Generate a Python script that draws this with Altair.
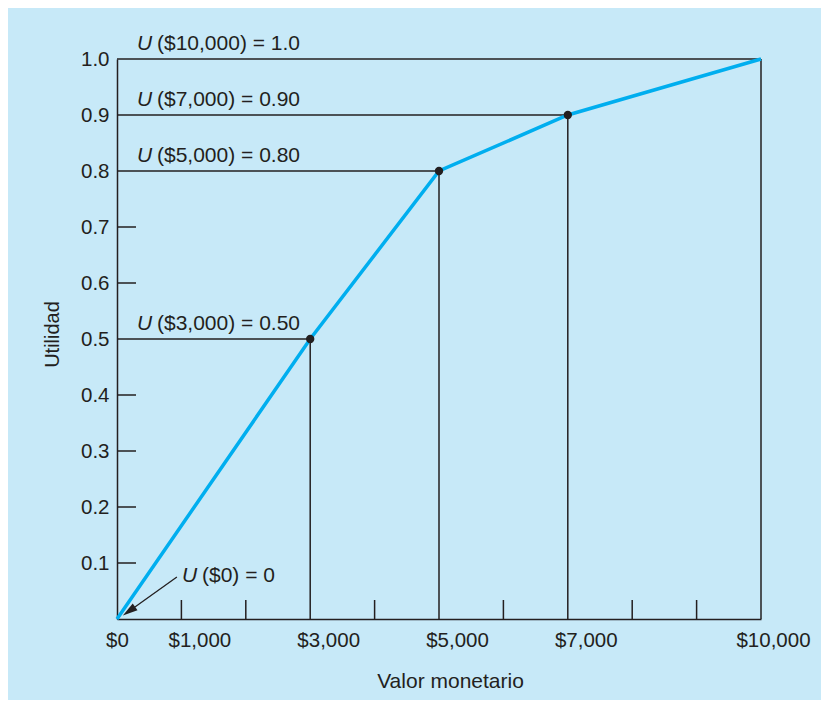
import altair as alt
import pandas as pd

# Data
money = [0, 3000, 5000, 7000, 10000]
utility = [0.0, 0.5, 0.8, 0.9, 1.0]
marked_money = [3000, 5000, 7000]
marked_utility = [0.5, 0.8, 0.9]
drop_money = [3000, 5000, 7000, 10000]
drop_utility = [0.5, 0.8, 0.9, 1.0]
ann_rest = ["($3,000) = 0.50", "($5,000) = 0.80", "($7,000) = 0.90", "($10,000) = 1.0"]
zero_label = "($0) = 0"
x_label_values = [0, 1000, 3000, 5000, 7000, 10000]
x_minor_ticks = [1000, 2000, 4000, 6000, 8000, 9000]
y_tick_values = [0.1, 0.2, 0.3, 0.4, 0.5, 0.6, 0.7, 0.8, 0.9, 1.0]
y_minor_ticks = [0.1, 0.2, 0.3, 0.4, 0.6, 0.7]
arrow_start = (930, 0.075)
arrow_head = (186, 0.014)

W, H = 644, 560
FONT = "Liberation Sans"
INK = "#231f20"
BG = "#c7e9f8"
BLUE = "#00aeef"

xs = alt.Scale(domain=[0, 10000], nice=False)
ys = alt.Scale(domain=[0, 1.0], nice=False)

curve_df = pd.DataFrame({"m": money, "u": utility})
drop_df = pd.DataFrame({"m": drop_money, "u": drop_utility, "zero": 0, "rest": ann_rest, "U": "U"})
pts_df = pd.DataFrame({"m": marked_money, "u": marked_utility})

x_offset = {"condition": [{"test": "datum.value == 0", "value": 0},
                          {"test": "datum.value == 10000", "value": 12}],
            "value": 18}

base_x = alt.X("m:Q", scale=xs, title="Valor monetario",
               axis=alt.Axis(values=x_label_values, format="$,d", tickSize=0,
                             labelPadding=11, labelFontSize=20.5, labelFont=FONT,
                             labelColor=INK, domainColor=INK, domainWidth=1.5,
                             labelFlush=False, labelOverlap=False,
                             grid=False, titleFont=FONT, titleFontSize=21,
                             titleFontWeight="normal", titleColor=INK,
                             titlePadding=20, titleX=333,
                             labelOffset=x_offset))
base_y = alt.Y("u:Q", scale=ys, title="Utilidad",
               axis=alt.Axis(values=y_tick_values, format=".1f", tickSize=0,
                             labelPadding=8, labelFontSize=20.5, labelFont=FONT,
                             labelColor=INK, domainColor=INK, domainWidth=1.5,
                             labelFlush=False, labelOverlap=False,
                             grid=False, titleFont=FONT, titleFontSize=20,
                             titleFontWeight="normal", titleColor=INK,
                             titlePadding=18, titleY=275))

axes_layer = alt.Chart(curve_df).mark_point(opacity=0).encode(x=base_x, y=base_y)

hlines = alt.Chart(drop_df).mark_rule(color=INK, strokeWidth=1.5).encode(
    x=alt.X("zero:Q", scale=xs), x2="m:Q", y=alt.Y("u:Q", scale=ys))
vlines = alt.Chart(drop_df).mark_rule(color=INK, strokeWidth=1.5).encode(
    x=alt.X("m:Q", scale=xs), y=alt.Y("zero:Q", scale=ys), y2="u:Q")

xt = alt.Chart(pd.DataFrame({"m": x_minor_ticks})).mark_rule(color=INK, strokeWidth=1.5).encode(
    x=alt.X("m:Q", scale=xs), y=alt.value(H), y2=alt.value(H - 19))
yt = alt.Chart(pd.DataFrame({"u": y_minor_ticks})).mark_rule(color=INK, strokeWidth=1.5).encode(
    y=alt.Y("u:Q", scale=ys), x=alt.value(0), x2=alt.value(19))

curve = alt.Chart(curve_df).mark_line(color=BLUE, strokeWidth=3.5).encode(
    x=alt.X("m:Q", scale=xs), y=alt.Y("u:Q", scale=ys))
dots = alt.Chart(pts_df).mark_circle(color=INK, opacity=1, size=70).encode(
    x=alt.X("m:Q", scale=xs), y=alt.Y("u:Q", scale=ys))

u_text = alt.Chart(drop_df).mark_text(font=FONT, fontSize=21, fontStyle="italic", color=INK,
                                      align="left", baseline="alphabetic", dx=20, dy=-9).encode(
    x=alt.X("zero:Q", scale=xs), y=alt.Y("u:Q", scale=ys), text="U:N")
rest_text = alt.Chart(drop_df).mark_text(font=FONT, fontSize=21, color=INK,
                                         align="left", baseline="alphabetic", dx=40, dy=-9).encode(
    x=alt.X("zero:Q", scale=xs), y=alt.Y("u:Q", scale=ys), text="rest:N")

zero_df = pd.DataFrame({"m": [0], "u": [0], "U": ["U"], "rest": [zero_label]})
z_u = alt.Chart(zero_df).mark_text(font=FONT, fontSize=21, fontStyle="italic", color=INK,
                                   align="left", baseline="alphabetic", dx=65, dy=-37).encode(
    x=alt.X("m:Q", scale=xs), y=alt.Y("u:Q", scale=ys), text="U:N")
z_rest = alt.Chart(zero_df).mark_text(font=FONT, fontSize=21, color=INK,
                                      align="left", baseline="alphabetic", dx=85, dy=-37).encode(
    x=alt.X("m:Q", scale=xs), y=alt.Y("u:Q", scale=ys), text="rest:N")

arrow_df = pd.DataFrame({"x1": [arrow_start[0]], "y1": [arrow_start[1]],
                         "x2": [arrow_head[0]], "y2": [arrow_head[1]]})
arrow_line = alt.Chart(arrow_df).mark_rule(color=INK, strokeWidth=1.3).encode(
    x=alt.X("x1:Q", scale=xs), y=alt.Y("y1:Q", scale=ys), x2="x2:Q", y2="y2:Q")
arrow_tip = alt.Chart(arrow_df).mark_point(shape="M0,-1L0.55,1L-0.55,1Z", filled=True, color=INK,
                                           opacity=1, size=225, angle=234.7, strokeWidth=0).encode(
    x=alt.X("x2:Q", scale=xs), y=alt.Y("y2:Q", scale=ys))

chart = alt.layer(axes_layer, hlines, vlines, xt, yt, curve, dots, u_text, rest_text,
                  z_u, z_rest, arrow_line, arrow_tip).properties(
    width=W, height=H,
    autosize=alt.AutoSizeParams(type="none"),
    padding={"left": 109, "top": 51, "right": 60, "bottom": 81},
    background=BG,
).configure_view(stroke=None)

chart.save("out.html", embed_options={"renderer": "svg", "actions": False})
